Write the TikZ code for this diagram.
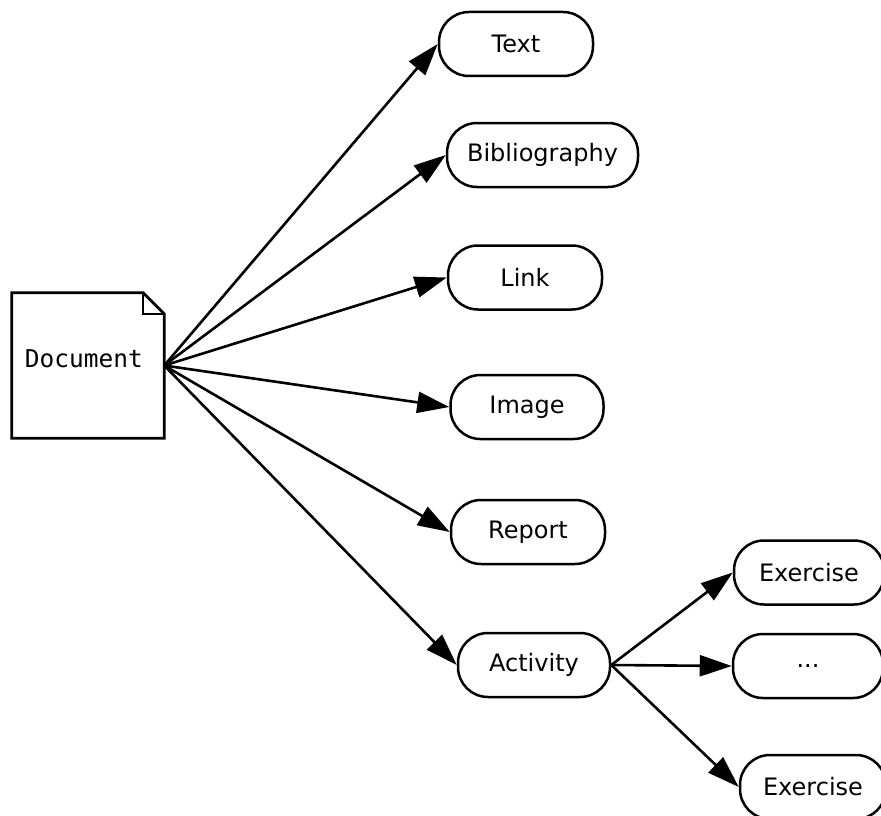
\documentclass[tikz,border=0pt]{standalone}
\usepackage{fontspec}
\setmainfont{DejaVu Sans}
\newfontfamily\monofont{DejaVu Sans Mono}
\usetikzlibrary{arrows.meta}
\begin{document}
\begin{tikzpicture}[x=1pt,y=-1pt,
  item/.style={draw, line width=2.5pt, rounded corners=30pt, minimum height=64pt,
    inner sep=0pt, font=\fontsize{24}{28}\selectfont},
  link/.style={line width=2.6pt, -{Triangle[length=32pt,width=21pt]}}]

\useasboundingbox (0,0) rectangle (881,816);

% document with folded corner
\node[minimum width=152pt, minimum height=145pt, inner sep=0pt] (doc) at (88,365.5) {};
\draw[line width=2.8pt, line join=miter]
  (doc.north west) -- ([xshift=-21pt]doc.north east) -- ([yshift=-21pt]doc.north east)
  -- (doc.south east) -- (doc.south west) -- cycle;
\draw[line width=1.8pt] ([xshift=-21pt]doc.north east) |- ([yshift=-21pt]doc.north east);
\node[font=\monofont\fontsize{24.5}{28}\selectfont] (doclabel) at (84,359) {Document};

% content items
\node[item, minimum width=154pt] (text)     at (516,44)    {Text};
\node[item, minimum width=191pt] (bib)      at (542.5,155) {Bibliography};
\node[item, minimum width=154pt] (link)     at (525,277.5) {Link};
\node[item, minimum width=153pt] (image)    at (527,407)   {Image};
\node[item, minimum width=154pt] (report)   at (528,532)   {Report};
\node[item, minimum width=152pt] (activity) at (534,665)   {Activity};

% activity parts
\node[item, minimum width=150pt] (ex1)  at (809,572.5) {Exercise};
\node[item, minimum width=150pt] (dots) at (808,666)   {...};
\node[item, minimum width=146pt] (ex2)  at (813,787)   {Exercise};

% connectors
\foreach \t in {text,bib,link,image,report,activity}
  \draw[link] (doc.east) -- (\t.west);
\foreach \t in {ex1,dots,ex2}
  \draw[link] (activity.east) -- (\t.west);
\end{tikzpicture}
\end{document}
